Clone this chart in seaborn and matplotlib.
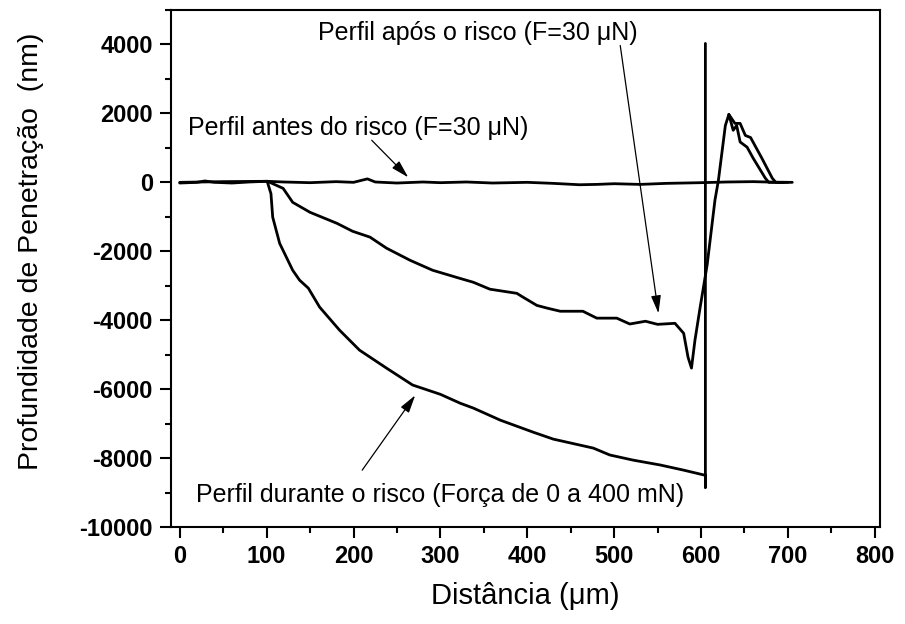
import matplotlib
matplotlib.use("Agg")
import matplotlib.pyplot as plt
from matplotlib.ticker import MultipleLocator
import pandas as pd
import seaborn as sns

# Profile before the scratch (F = 30 uN)
before_x = [0, 10, 20, 29, 40, 60, 80, 100, 120, 150, 180, 200, 216, 225, 250,
            280, 300, 330, 360, 400, 430, 460, 480, 500, 530, 560, 600, 630,
            660, 690, 705]
before_y = [-20, -10, 0, 40, 0, -20, 10, 30, 10, -10, 20, 0, 100, 10, -20,
            10, -10, 10, -20, 0, -30, -70, -60, -40, -60, -30, -10, 10,
            20, 0, 0]

# Profile after the scratch (F = 30 uN)
after_x = [0, 50, 101, 119, 130, 150, 181, 199, 219, 238, 265, 291, 323, 338,
           357, 388, 395, 411, 423, 438, 464, 480, 503, 518, 536, 550, 570,
           580, 585, 589, 593, 599, 607, 616, 620, 628, 632, 637, 641, 645,
           653, 660, 674, 678, 700]
after_y = [0, 20, 30, -175, -580, -870, -1190, -1420, -1590, -1910, -2260,
           -2550, -2790, -2900, -3100, -3220, -3330, -3570, -3650, -3740,
           -3740, -3940, -3940, -4110, -4030, -4120, -4090, -4380, -5070,
           -5390, -4580, -3620, -2400, -520, 60, 1650, 1970, 1510, 1650,
           1170, 1020, 700, 120, 0, 0]

# Second trace of the pile-up ridge after the scratch
ridge_x = [632, 639, 645, 651, 657, 670, 682, 686, 695]
ridge_y = [1970, 1710, 1710, 1360, 1300, 700, 120, 0, 0]

# Profile during the scratch (load 0 to 400 mN)
during_x = [101, 105, 107, 115, 130, 138, 148, 161, 184, 207, 238, 268, 300,
            323, 338, 369, 407, 430, 476, 495, 522, 553, 580, 605, 605, 605]
during_y = [0, -330, -1010, -1770, -2550, -2840, -3070, -3620, -4290, -4870,
            -5390, -5880, -6150, -6410, -6550, -6900, -7250, -7450, -7710,
            -7910, -8060, -8200, -8350, -8500, -8850, 4030]

sns.set_theme(style="ticks")
plt.rcParams["font.family"] = ["Liberation Sans", "DejaVu Sans"]
plt.rcParams.update({
    "axes.unicode_minus": False,
    "text.color": "black",
    "axes.labelcolor": "black",
    "xtick.color": "black",
    "ytick.color": "black",
    "xtick.labelcolor": "black",
    "ytick.labelcolor": "black",
})

fig = plt.figure(figsize=(9.05, 6.24), dpi=100)
ax = fig.add_axes([0.189, 0.1554, 0.7834, 0.8286])

series = [
    ("before", before_x, before_y),
    ("after", after_x, after_y),
    ("ridge", ridge_x, ridge_y),
    ("during", during_x, during_y),
]
for name, xs, ys in series:
    df = pd.DataFrame({"x": xs, "y": ys})
    sns.lineplot(data=df, x="x", y="y", sort=False, estimator=None,
                 color="black", linewidth=2.0, ax=ax)

ax.set_xlim(-10, 806)
ax.set_ylim(-10000, 5000)
ax.xaxis.set_major_locator(MultipleLocator(100))
ax.xaxis.set_minor_locator(MultipleLocator(50))
ax.yaxis.set_minor_locator(MultipleLocator(1000))
ax.set_yticks(list(range(-10000, 4001, 2000)))
ax.tick_params(axis="both", which="major", direction="out", length=8,
               width=1.5, color="black", labelcolor="black", labelsize=17,
               pad=5)
ax.tick_params(axis="both", which="minor", direction="out", length=4.5,
               width=1.5, color="black")
for lab in ax.get_xticklabels() + ax.get_yticklabels():
    lab.set_fontweight("bold")
for sp in ax.spines.values():
    sp.set_visible(True)
    sp.set_linewidth(1.5)
    sp.set_color("black")

ax.set_xlabel("Distância (μm)", fontsize=21, labelpad=10, color="black")
ax.set_ylabel("Profundidade de Penetração  (nm)", fontsize=20.5,
              color="black")
ax.yaxis.set_label_coords(-0.179, 0.534)

arrow = dict(arrowstyle="-|>,head_length=0.9,head_width=0.25",
             color="black", lw=0.9, shrinkA=0, shrinkB=0)

ax.text(343, 4320, "Perfil após o risco (F=30 μN)", fontsize=18,
        ha="center", va="center", color="black")
ax.annotate("", xy=(551, -3800), xytext=(507, 3970), arrowprops=arrow)

ax.text(205, 1570, "Perfil antes do risco (F=30 μN)", fontsize=18,
        ha="center", va="center", color="black")
ax.annotate("", xy=(263, 145), xytext=(221, 1220), arrowprops=arrow)

ax.text(300, -9080, "Perfil durante o risco (Força de 0 a 400 mN)",
        fontsize=18, ha="center", va="center", color="black")
ax.annotate("", xy=(271, -6180), xytext=(210, -8350), arrowprops=arrow)

fig.savefig("out.png", dpi=100)
